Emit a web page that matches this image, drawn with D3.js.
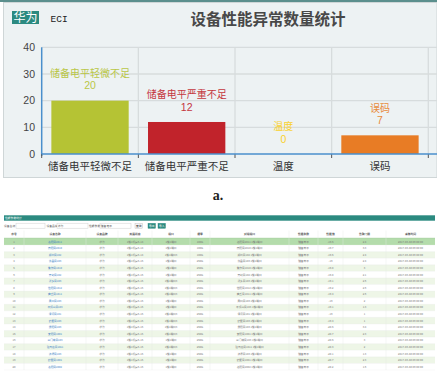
<!DOCTYPE html>
<html><head><meta charset="utf-8">
<script src="https://cdn.jsdelivr.net/npm/d3@7/dist/d3.min.js"></script>
<style>
html,body{margin:0;padding:0;background:#fff;}
svg{display:block;}
text{font-family:"Noto Sans CJK SC","Noto Sans",sans-serif;}
</style></head>
<body>
<script>
// ---------- chart data ----------
const chartTitle = "设备性能异常数量统计";
const brandTag = "华为";
const systemTag = "ECI";
const categories = ["储备电平轻微不足","储备电平严重不足","温度","误码"];
const counts = [20,12,0,7];
const barColors = ["#b5c334","#c1232b","#fcce10","#e87c25"];
const yTicks = [0,10,20,30,40];
const caption = "a.";

// ---------- table data ----------
const tableTitle = "性能参数统计";
const filterLabels = ["设备名称","设备品牌","性能参数"];
const filterValues = ["","华为","储备电平"];
const buttons = ["查询","导出","导入"];
const tableHeaders = ["序号","设备名称","设备品牌","所属机房","端口","速率","对端端口","性能参数","性能值","告警门限","采集时间"];
const rowNo = [1,2,3,4,5,6,7,8,9,10,11,12,13,14,15,16,17,18,19,20];
const deviceNames = ["洛阳局2011","南阳局2010","郑州局102","许昌局103","焦作局1010","开封局102","新乡局103","信阳局1012","商丘局1011","周口局103","平顶山局103","漯河局101","鹤壁局103","濮阳局103","安阳局1001","三门峡局103","驻马店局1011","济源局103","鹤壁局1001","洛阳局2002"];
const brands = ["华为","华为","华为","华为","华为","华为","华为","华为","华为","华为","华为","华为","华为","华为","华为","华为","华为","华为","华为","华为"];
const rooms = ["1楼1机房5-14","1楼1机房5-14","1楼1机房5-14","1楼1机房5-15","1楼1机房5-15","1楼1机房5-15","1楼1机房5-15","1楼1机房5-15","1楼1机房5-15","1楼1机房5-15","1楼1机房5-15","1楼1机房5-15","1楼1机房5-15","1楼1机房5-15","1楼1机房5-15","1楼1机房5-15","1楼1机房5-15","1楼1机房5-15","1楼1机房5-15","1楼1机房5-15"];
const ports = ["1楼1端口","1楼1端口","1楼1端口3","1楼1端口","1楼1端口","1楼1端口","1楼1端口3","1楼1端口3","1楼1端口3","1楼1端口","1楼1端口","1楼1端口3","1楼1端口3","1楼1端口3","1楼1端口3","1楼1端口","1楼1端口3","1楼1端口","1楼1端口","1楼1端口"];
const rates = ["100G","100G","100G","250G","250G","250G","250G","250G","250G","250G","250G","250G","250G","250G","250G","250G","250G","250G","250G","250G"];
const peerPorts = ["洛阳局2011 1楼1端口","南阳局2010 1楼1端口","郑州局102 1楼1端口","许昌局103 1楼1端口","焦作局1010 1楼1端口","开封局102 1楼1端口","新乡局103 1楼1端口","信阳局1012 1楼1端口","商丘局1011 1楼1端口","周口局103 1楼1端口","平顶山局103 1楼1端口","漯河局101 1楼1端口","鹤壁局103 1楼1端口","濮阳局103 1楼1端口","安阳局1001 1楼1端口","三门峡局103 1楼1端口","驻马店局1011 1楼1端口","济源局103 1楼1端口","鹤壁局1001 1楼1端口","洛阳局2002 1楼1端口"];
const perfParams = ["储备电平","储备电平","储备电平","储备电平","储备电平","储备电平","储备电平","储备电平","储备电平","储备电平","储备电平","储备电平","储备电平","储备电平","储备电平","储备电平","储备电平","储备电平","储备电平","储备电平"];
const perfValues = [-19.5,-19.7,-19.5,-19.0,-19.8,-19.8,-19.1,-19.2,-19.4,-19.0,-19.1,-19.0,-19.4,-20.5,-20.7,-20.5,-20.3,-20.1,-20.7,-20.2];
const thresholds = [2.4,3.3,2.4,2.4,3.0,2.1,2.6,2.6,2.6,2,1.3,1.0,1.0,3.4,2.3,3.0,2,1.3,2.3,1.6];
const sampleTimes = ["2017-03-08 09:00:00","2017-03-08 09:00:00","2017-03-08 09:00:00","2017-03-08 09:00:00","2017-03-08 09:00:00","2017-03-08 09:00:00","2017-03-08 09:00:00","2017-03-08 09:00:00","2017-03-08 09:00:00","2017-03-08 09:00:00","2017-03-08 09:00:00","2017-03-08 09:00:00","2017-03-08 09:00:00","2017-03-08 09:00:00","2017-03-08 09:00:00","2017-03-08 09:00:00","2017-03-08 09:00:00","2017-03-08 09:00:00","2017-03-08 09:00:00","2017-03-08 09:00:00"];

// ---------- drawing ----------
const W = 437, H = 378;
const svg = d3.select("body").append("svg").attr("width", W).attr("height", H);

// chart panel
svg.append("rect").attr("x",3.5).attr("y",2.5).attr("width",W-3.5).attr("height",175)
  .attr("fill","#edf2f3").attr("stroke","#cfd6d7").attr("stroke-width",1);
svg.append("line").attr("x1",0).attr("x2",W).attr("y1",1).attr("y2",1)
  .attr("stroke","#5b8f8d").attr("stroke-width",2);

// header tags
svg.append("rect").attr("x",12).attr("y",11).attr("width",27).attr("height",13).attr("fill","#2b8a80");
svg.append("text").attr("x",25.5).attr("y",21.8).attr("text-anchor","middle")
  .attr("font-size",12).attr("fill","#fff").text(brandTag);
svg.append("text").attr("x",50.5).attr("y",21.5).attr("font-size",9.5)
  .style("font-family","'Liberation Mono',monospace").attr("fill","#222").text(systemTag);
svg.append("text").attr("x",268).attr("y",25).attr("text-anchor","middle")
  .attr("font-size",15.5).attr("font-weight","bold").attr("fill","#484848").text(chartTitle);

const x0 = 41.7, x1 = 428.3, yTop = 47.3, yBot = 154;
const xb = d3.scaleBand().domain(categories).range([x0,x1]).padding(0);
const x = d3.scaleBand().domain(categories).range([x0,x1]).paddingInner(0.2).paddingOuter(0.1);
const y = d3.scaleLinear().domain([0,40]).range([yBot,yTop]);

// grid
svg.append("g").selectAll("line").data(yTicks.filter(d=>d>0)).join("line")
  .attr("x1",x0).attr("x2",W).attr("y1",d=>y(d)).attr("y2",d=>y(d))
  .attr("stroke","#d7dcdd").attr("stroke-width",1.3);
svg.append("g").selectAll("line").data(categories).join("line")
  .attr("x1",d=>xb(d)+xb.bandwidth()).attr("x2",d=>xb(d)+xb.bandwidth())
  .attr("y1",yTop).attr("y2",yBot).attr("stroke","#d7dcdd").attr("stroke-width",1.3);

// y labels
svg.append("g").selectAll("text").data(yTicks).join("text")
  .attr("x",35).attr("y",d=>y(d)).attr("dy","0.35em").attr("text-anchor","end")
  .style("font-family","'Liberation Sans',Arial,sans-serif")
  .attr("font-size",10.5).attr("fill","#444").text(d=>d);

// bars
svg.append("g").selectAll("rect").data(categories).join("rect")
  .attr("x",d=>x(d)).attr("width",x.bandwidth())
  .attr("y",(d,i)=>y(counts[i])).attr("height",(d,i)=>yBot-y(counts[i]))
  .attr("fill",(d,i)=>barColors[i]);

// bar labels: name line + value line
const lab = svg.append("g").selectAll("g").data(categories).join("g")
  .attr("transform",(d,i)=>`translate(${x(d)+x.bandwidth()/2},${y(counts[i])})`)
  .attr("fill",(d,i)=>barColors[i]).attr("opacity",0.9);
lab.append("text").attr("y",-23.8).attr("text-anchor","middle").attr("font-size",10).text(d=>d);
lab.append("text").attr("y",-11.3).attr("text-anchor","middle").attr("font-size",10.5)
  .style("font-family","'Liberation Sans',Arial,sans-serif").text((d,i)=>counts[i]);

// axes lines
svg.append("line").attr("x1",x0).attr("x2",x0).attr("y1",yTop).attr("y2",yBot+2)
  .attr("stroke","#4a8fcc").attr("stroke-width",1.5);
svg.append("g").selectAll("line").data([categories[0]].concat(categories)).join("line")
  .attr("x1",(d,i)=>i===0?x0:xb(d)+xb.bandwidth()).attr("x2",(d,i)=>i===0?x0:xb(d)+xb.bandwidth())
  .attr("y1",yBot).attr("y2",yBot+4).attr("stroke","#555").attr("stroke-width",1);
svg.append("line").attr("x1",x0).attr("x2",W).attr("y1",yBot).attr("y2",yBot)
  .attr("stroke","#4a8fcc").attr("stroke-width",1.5);

// x labels
svg.append("g").selectAll("text").data(categories).join("text")
  .attr("x",d=>xb(d)+xb.bandwidth()/2).attr("y",166.7).attr("dy","0.35em")
  .attr("text-anchor","middle").attr("font-size",10.5).attr("fill","#333").text(d=>d);

// caption
svg.append("text").attr("x",218).attr("y",199.5).attr("text-anchor","middle")
  .attr("font-size",14).attr("font-weight","bold").style("font-family","'Liberation Serif',serif")
  .attr("fill","#222").text(caption);

// ---------- table ----------
const tx0 = 4, tx1 = 435;
svg.append("rect").attr("x",tx0).attr("y",215.3).attr("width",tx1-tx0).attr("height",5.4).attr("fill","#2b8a80");
svg.append("text").attr("x",tx0+1).attr("y",219.2).attr("font-size",2.8).attr("fill","#fff").text(tableTitle);

// toolbar
const fl = [{lx:4,ix:16,iw:29},{lx:46.5,ix:57,iw:31},{lx:89,ix:100,iw:31}];
fl.forEach((f,i)=>{
  svg.append("text").attr("x",f.lx).attr("y",226.8).attr("font-size",2.8).attr("fill","#555").text(filterLabels[i]);
  svg.append("rect").attr("x",f.ix).attr("y",223.2).attr("width",f.iw).attr("height",5)
    .attr("fill","#fff").attr("stroke","#cfcfcf").attr("stroke-width",0.5);
  svg.append("text").attr("x",f.ix+0.8).attr("y",226.8).attr("font-size",2.8).attr("fill","#555").text(filterValues[i]);
});
const bx = [135,148,158];
buttons.forEach((b,i)=>{
  svg.append("rect").attr("x",bx[i]).attr("y",223.3).attr("width",7.5).attr("height",5)
    .attr("fill",i===0?"#f4f4f4":"#2b8a80").attr("stroke",i===0?"#bbb":"#2b8a80").attr("stroke-width",0.4);
  svg.append("text").attr("x",bx[i]+3.75).attr("y",226.8).attr("text-anchor","middle")
    .attr("font-size",2.8).attr("fill",i===0?"#444":"#fff").text(b);
});

// columns
const colEdges = [4,24,86,118,152,190,210,289,318,343,386,435];
const colCenter = i => (colEdges[i]+colEdges[i+1])/2;

// header row
svg.append("g").selectAll("text").data(tableHeaders).join("text")
  .attr("x",(d,i)=>colCenter(i)).attr("y",233.8).attr("dy","0.35em").attr("text-anchor","middle")
  .attr("font-size",2.8).attr("font-weight","bold").attr("fill","#555").text(d=>d);

const ry = d3.scaleBand().domain(rowNo).range([238.5,370]).padding(0);
svg.append("g").selectAll("rect").data(rowNo).join("rect")
  .attr("x",tx0).attr("width",tx1-tx0).attr("y",d=>ry(d)).attr("height",ry.bandwidth())
  .attr("fill",(d,i)=>i===0?"#b4dcab":(i%2===0?"#eef6e7":"#ffffff"));
svg.append("line").attr("x1",tx0).attr("x2",tx1).attr("y1",238.3).attr("y2",238.3)
  .attr("stroke","#9fcf96").attr("stroke-width",0.9);
svg.append("g").selectAll("line").data(rowNo).join("line")
  .attr("x1",tx0).attr("x2",tx1).attr("y1",d=>ry(d)+ry.bandwidth()).attr("y2",d=>ry(d)+ry.bandwidth())
  .attr("stroke","#e8ece6").attr("stroke-width",0.3);
svg.append("g").selectAll("line").data(colEdges.slice(1,-1)).join("line")
  .attr("x1",d=>d).attr("x2",d=>d).attr("y1",230.5).attr("y2",370)
  .attr("stroke","#e6e9e6").attr("stroke-width",0.4);

const columns = [rowNo,deviceNames,brands,rooms,ports,rates,peerPorts,perfParams,perfValues,thresholds,sampleTimes];
columns.forEach((col,ci)=>{
  svg.append("g").selectAll("text").data(col).join("text")
    .attr("x",colCenter(ci)).attr("y",(d,i)=>ry(rowNo[i])+ry.bandwidth()/2).attr("dy","0.35em")
    .attr("text-anchor","middle").attr("font-size",2.7)
    .attr("fill",ci===1?"#3d7fc4":"#777").text(d=>d);
});
</script>
</body></html>
